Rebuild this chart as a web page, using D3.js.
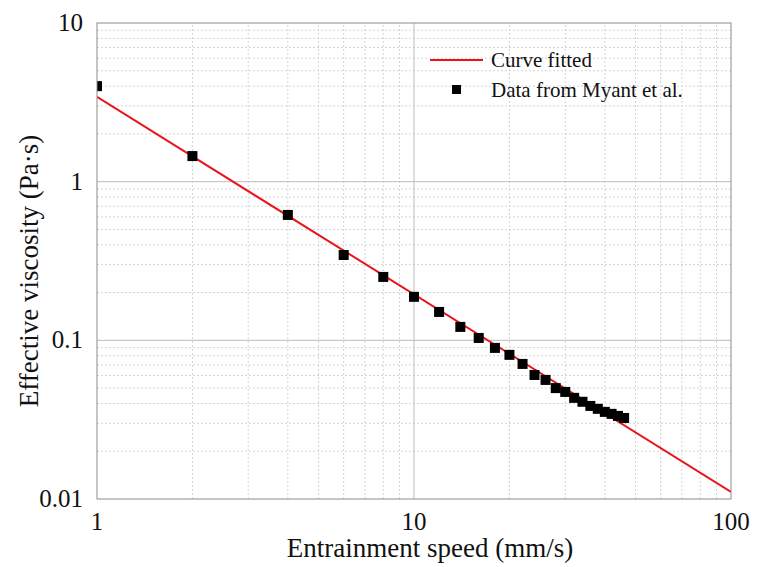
<!DOCTYPE html>
<html>
<head>
<meta charset="utf-8">
<script src="https://cdn.jsdelivr.net/npm/d3@7"></script>
<style>
  body { margin: 0; background: #fff; }
  svg text { font-family: "Times New Roman", Times, "Liberation Serif", "DejaVu Serif", "Noto Serif", serif; }
</style>
</head>
<body>
<div id="chart"></div>
<script>
// measured data (speed in mm/s, viscosity in Pa·s)
const speed = [1, 2, 4, 6, 8, 10, 12, 14, 16, 18, 20, 22, 24, 26, 28, 30, 32, 34, 36, 38, 40, 42, 44, 46];
const viscosity = [4.0, 1.45, 0.617, 0.345, 0.251, 0.188, 0.151, 0.1215, 0.1035, 0.0896, 0.081, 0.071,
  0.0605, 0.0563, 0.050, 0.0473, 0.0434, 0.041, 0.0386, 0.037, 0.0354, 0.0344, 0.0334, 0.0324];
// fitted power-law curve, end points
const fitSpeed = [1, 100];
const fitViscosity = [3.42, 0.0111];
const xTicks = [1, 10, 100];
const yTicks = [0.01, 0.1, 1, 10];

const width = 758, height = 567;
const margin = {top: 23, right: 27, bottom: 68, left: 97};

const svg = d3.select("#chart").append("svg")
  .attr("width", width)
  .attr("height", height);

const x = d3.scaleLog().domain([1, 100]).range([margin.left, width - margin.right]);
const y = d3.scaleLog().domain([0.01, 10]).range([height - margin.bottom, margin.top]);

// minor grid (2..9 in each decade)
const minorX = [], minorY = [];
for (let d = 1; d < 100; d *= 10) for (let k = 2; k < 10; k++) minorX.push(d * k);
for (let d = 0.01; d < 10; d *= 10) for (let k = 2; k < 10; k++) minorY.push(d * k);

const grid = svg.append("g");
grid.selectAll(".mx").data(minorX).enter().append("line")
  .attr("x1", d => x(d)).attr("x2", d => x(d))
  .attr("y1", y(0.01)).attr("y2", y(10))
  .attr("stroke", "#d4d4d4").attr("stroke-dasharray", "2,2");
grid.selectAll(".my").data(minorY).enter().append("line")
  .attr("y1", d => y(d)).attr("y2", d => y(d))
  .attr("x1", x(1)).attr("x2", x(100))
  .attr("stroke", "#d4d4d4").attr("stroke-dasharray", "2,2");
grid.selectAll(".Mx").data([10]).enter().append("line")
  .attr("x1", d => x(d)).attr("x2", d => x(d))
  .attr("y1", y(0.01)).attr("y2", y(10))
  .attr("stroke", "#bdbdbd");
grid.selectAll(".My").data([0.1, 1]).enter().append("line")
  .attr("y1", d => y(d)).attr("y2", d => y(d))
  .attr("x1", x(1)).attr("x2", x(100))
  .attr("stroke", "#bdbdbd");

svg.append("clipPath").attr("id", "clip")
  .append("rect")
  .attr("x", x(1)).attr("y", y(10))
  .attr("width", x(100) - x(1)).attr("height", y(0.01) - y(10));

const plot = svg.append("g").attr("clip-path", "url(#clip)");

const line = d3.line().x(d => x(d[0])).y(d => y(d[1]));
plot.append("path")
  .datum(d3.zip(fitSpeed, fitViscosity))
  .attr("d", line)
  .attr("fill", "none")
  .attr("stroke", "#e8141b")
  .attr("stroke-width", 2);

const sq = 10;
plot.selectAll(".pt").data(d3.zip(speed, viscosity)).enter().append("rect")
  .attr("x", d => x(d[0]) - sq / 2)
  .attr("y", d => y(d[1]) - sq / 2)
  .attr("width", sq).attr("height", sq)
  .attr("fill", "#000");

// frame
svg.append("rect")
  .attr("x", x(1)).attr("y", y(10))
  .attr("width", x(100) - x(1)).attr("height", y(0.01) - y(10))
  .attr("fill", "none").attr("stroke", "#8c8c8c").attr("stroke-width", 1);

// tick labels
svg.selectAll(".xt").data(xTicks).enter().append("text")
  .attr("x", d => x(d)).attr("y", height - margin.bottom + 31)
  .attr("text-anchor", "middle")
  .attr("font-size", 25)
  .attr("fill", "#111")
  .text(d => d);
svg.selectAll(".yt").data(yTicks).enter().append("text")
  .attr("x", margin.left - 14).attr("y", d => y(d) + 8)
  .attr("text-anchor", "end")
  .attr("font-size", 25)
  .attr("fill", "#111")
  .text(d => d);

// axis titles
svg.append("text")
  .attr("x", x(10) + 16).attr("y", height - 10)
  .attr("text-anchor", "middle")
  .attr("font-size", 27)
  .attr("fill", "#111")
  .text("Entrainment speed (mm/s)");
svg.append("text")
  .attr("transform", `translate(38,${(y(0.01) + y(10)) / 2 + 10}) rotate(-90)`)
  .attr("text-anchor", "middle")
  .attr("font-size", 27)
  .attr("fill", "#111")
  .text("Effective viscosity (Pa·s)");

// legend
const lg = svg.append("g");
lg.append("line")
  .attr("x1", 430).attr("x2", 483).attr("y1", 60).attr("y2", 60)
  .attr("stroke", "#e8141b").attr("stroke-width", 2);
lg.append("text").attr("x", 491).attr("y", 67)
  .attr("font-size", 21).attr("fill", "#111").text("Curve fitted");
lg.append("rect").attr("x", 452).attr("y", 85).attr("width", 9).attr("height", 9).attr("fill", "#000");
lg.append("text").attr("x", 491).attr("y", 97)
  .attr("font-size", 21).attr("fill", "#111").text("Data from Myant et al.");
</script>
</body>
</html>
